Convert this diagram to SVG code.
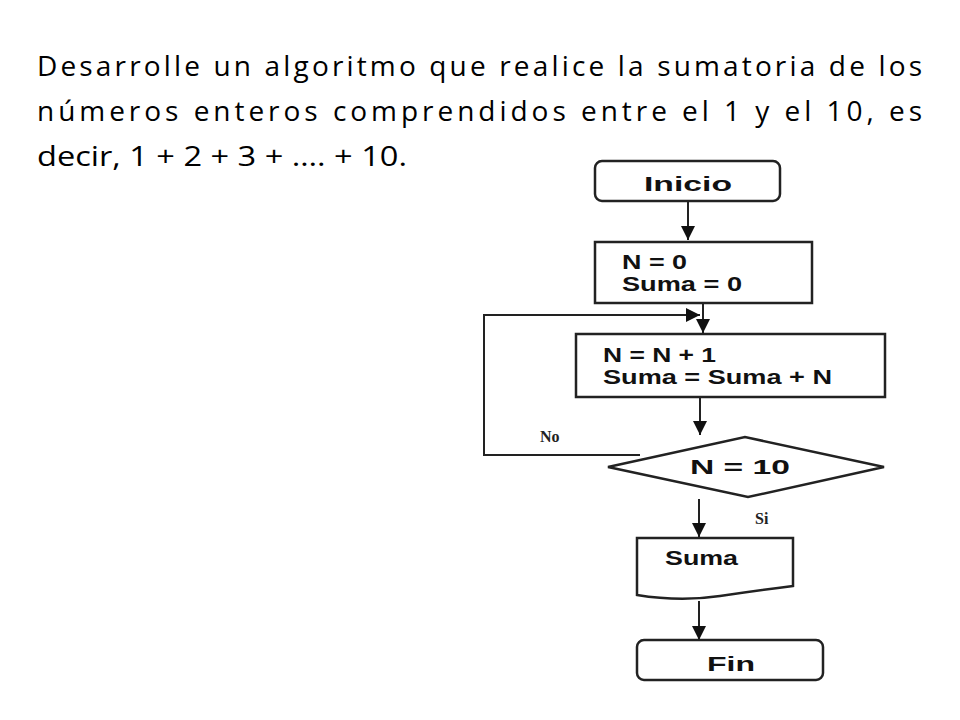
<svg xmlns="http://www.w3.org/2000/svg" width="960" height="720" viewBox="0 0 960 720">
<style>
.t{font-family:"Open Sans","Liberation Sans",sans-serif;font-size:28px;fill:#000}
.n{fill:#fff;stroke:#222;stroke-width:2.5}
.l{font-family:"Liberation Sans",Arial,sans-serif;font-weight:bold;font-size:20px;fill:#111}
.c{fill:none;stroke:#222;stroke-width:2}
.s{font-family:"Liberation Serif",serif;font-weight:bold;font-size:16px;fill:#222}
</style>
<defs><marker id="b" viewBox="0 0 10 10" refX="10" refY="5" markerWidth="14" markerHeight="14" markerUnits="userSpaceOnUse" orient="auto"><path d="M0,0L10,5L0,10z" fill="#111"/></marker></defs>
<rect width="960" height="720" fill="#fff"/>
<text class="t" x="37" y="76" textLength="885" lengthAdjust="spacing">Desarrolle un algoritmo que realice la sumatoria de los</text>
<text class="t" x="37" y="121" textLength="885" lengthAdjust="spacing">números enteros comprendidos entre el 1 y el 10,  es</text>
<text class="t" x="37" y="166" textLength="370" lengthAdjust="spacingAndGlyphs">decir, 1 + 2 + 3 + …. + 10.</text>
<g id="connectors">
<path class="c" d="M688,201V240" marker-end="url(#b)"/>
<path class="c" d="M703,303V333" marker-end="url(#b)"/>
<path class="c" d="M640,455H484V315H700" marker-end="url(#b)"/>
<path class="c" d="M700,397V435" marker-end="url(#b)"/>
<path class="c" d="M699,499V537" marker-end="url(#b)"/>
<path class="c" d="M699,601V640" marker-end="url(#b)"/>
<text class="s" x="540" y="442">No</text>
<text class="s" x="755" y="524">Si</text>
</g>
<g id="inicio"><rect class="n" x="595" y="161" width="185" height="40" rx="7"/><text class="l" x="644" y="191" font-size="21" textLength="88" lengthAdjust="spacingAndGlyphs">Inicio</text></g>
<g id="init"><rect class="n" x="595" y="242" width="217" height="61"/><text class="l" x="622" y="269" textLength="65" lengthAdjust="spacingAndGlyphs">N = 0</text><text class="l" x="622" y="291" textLength="120" lengthAdjust="spacingAndGlyphs">Suma = 0</text></g>
<g id="proc"><rect class="n" x="576" y="334" width="309" height="63"/><text class="l" x="603" y="362" textLength="113" lengthAdjust="spacingAndGlyphs">N = N + 1</text><text class="l" x="603" y="384" textLength="229" lengthAdjust="spacingAndGlyphs">Suma = Suma + N</text></g>
<g id="dec"><path class="n" d="M608,467L745,437L884,467L748,497Z"/><text class="l" x="690" y="474" textLength="100" lengthAdjust="spacingAndGlyphs">N = 10</text></g>
<g id="out"><path class="n" d="M637,538H793V586Q760,590 720,596T637,595Z"/><text class="l" x="665" y="565" textLength="73" lengthAdjust="spacingAndGlyphs">Suma</text></g>
<g id="fin"><rect class="n" x="637" y="640" width="186" height="40" rx="7"/><text class="l" x="707" y="671" font-size="21" textLength="48" lengthAdjust="spacingAndGlyphs">Fin</text></g>
</svg>
